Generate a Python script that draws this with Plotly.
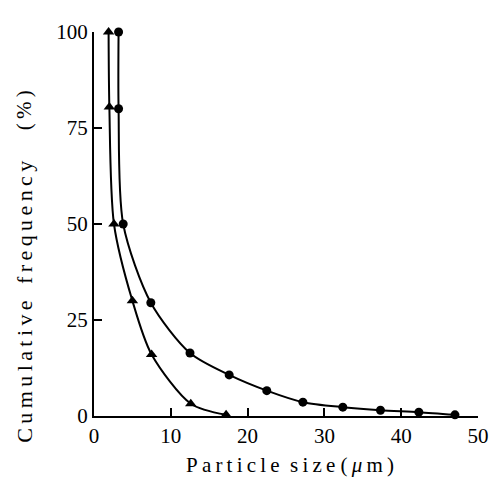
import plotly.graph_objects as go

# Series: circles
circ_x = [3.2, 3.2, 3.8, 7.4, 12.5, 17.6, 22.5, 27.2, 32.4, 37.3, 42.3, 47.0]
circ_y = [100, 80, 50, 29.5, 16.4, 10.7, 6.6, 3.6, 2.3, 1.5, 1.0, 0.3]
# Series: triangles
tri_x = [1.9, 2.0, 2.6, 5.0, 7.5, 12.6, 17.2]
tri_y = [100, 80.5, 50, 30, 16, 3.2, 0.3]

x_ticks = [0, 10, 20, 30, 40, 50]
y_ticks = [0, 25, 50, 75, 100]

font = "Liberation Serif"
TS = "\u2009"  # thin space for letter spacing


def spaced(s, sep=TS):
    return sep.join(list(s))


# page has an 8px body margin
OFF = 8
W, H = 501 - OFF, 484 - OFF
L, R, T, B = 86, 14, 17, 68
PW, PH = W - L - R, H - T - B


def px(page_x):
    return (page_x - OFF - L) / PW


def py(page_y):
    return (H - B - (page_y - OFF)) / PH


fig = go.Figure()
fig.add_trace(go.Scatter(x=circ_x, y=circ_y, mode="lines+markers",
                         line=dict(color="black", width=2, shape="spline", smoothing=0.8),
                         marker=dict(symbol="circle", size=9, color="black"),
                         cliponaxis=False, showlegend=False))
fig.add_trace(go.Scatter(x=tri_x, y=tri_y, mode="lines+markers",
                         line=dict(color="black", width=2, shape="spline", smoothing=0.8),
                         marker=dict(symbol="triangle-up", size=10, color="black"),
                         cliponaxis=False, showlegend=False))

fig.update_layout(
    width=W, height=H,
    margin=dict(l=L, r=R, t=T, b=B),
    plot_bgcolor="white", paper_bgcolor="white",
    font=dict(family=font, size=21, color="black"),
    xaxis=dict(range=[0, 50], tickvals=x_ticks, ticks="inside", ticklen=8,
               tickwidth=2, tickcolor="black", showline=True, linecolor="black",
               linewidth=2, showgrid=False, zeroline=False,
               tickfont=dict(family=font, size=21)),
    yaxis=dict(range=[0, 100], tickvals=y_ticks, ticks="inside", ticklen=8,
               tickwidth=2, tickcolor="black", showline=True, linecolor="black",
               linewidth=2, showgrid=False, zeroline=False,
               tickfont=dict(family=font, size=21)),
    annotations=[
        dict(text=spaced("Particle") + "  " + spaced("size") + " (" + TS + "<i>μ</i>" + TS + "m" + TS + ")",
             x=px(295), y=py(466), xref="paper", yref="paper",
             xanchor="center", yanchor="middle", showarrow=False,
             font=dict(family=font, size=21)),
        dict(text=spaced("Cumulative") + "   " + spaced("frequency"),
             x=px(22), y=py(300), xref="paper", yref="paper",
             xanchor="center", yanchor="middle", showarrow=False,
             textangle=-90, font=dict(family=font, size=22)),
        dict(text="(" + TS + "%" + TS + ")", x=px(22), y=py(105), xref="paper", yref="paper",
             xanchor="center", yanchor="middle", showarrow=False,
             textangle=-90, font=dict(family=font, size=21)),
    ],
)
fig.write_html("out.html")
